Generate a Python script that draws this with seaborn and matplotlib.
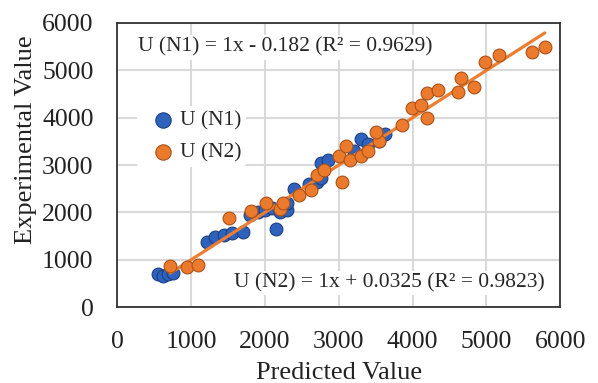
import numpy as np
import pandas as pd
import matplotlib
matplotlib.use("Agg")
import matplotlib.pyplot as plt
import seaborn as sns

# U (N1): predicted vs experimental
n1_pred = [550, 620, 690, 760, 1220, 1330, 1440, 1560, 1700, 1800, 1900, 2000,
           2100, 2150, 2200, 2300, 2300, 2400, 2600, 2700, 2760, 2760, 2860,
           3200, 3300, 3400, 3550, 3620]
n1_exp = [690, 650, 700, 730, 1370, 1480, 1520, 1560, 1590, 1950, 2000, 2050,
          2100, 1650, 2000, 2050, 2200, 2500, 2600, 2650, 2720, 3040, 3100,
          3300, 3550, 3450, 3500, 3650]

# U (N2)
n2_pred = [720, 950, 1100, 1510, 1810, 2010, 2200, 2250, 2460, 2620, 2700,
           2800, 3000, 3050, 3100, 3150, 3300, 3400, 3540, 3500, 3850, 3990,
           4120, 4190, 4190, 4350, 4620, 4660, 4830, 4980, 5170, 5620, 5790]
n2_exp = [860, 850, 880, 1880, 2030, 2200, 2080, 2200, 2370, 2470, 2800,
          2900, 3200, 2650, 3400, 3100, 3200, 3300, 3500, 3700, 3850, 4200,
          4270, 4000, 4520, 4580, 4540, 4830, 4650, 5170, 5320, 5390, 5490]

labels = ["U (N1)", "U (N2)"]
colors = ["#2f62bd", "#ec7a2c"]
edges = ["#1d3f80", "#a8521a"]
eq1 = "U (N1) = 1x - 0.182 (R² = 0.9629)"
eq2 = "U (N2) = 1x + 0.0325 (R² = 0.9823)"
fit2 = (1.0, 0.0325)

df = pd.DataFrame({
    "pred": n1_pred + n2_pred,
    "exp": n1_exp + n2_exp,
    "series": [labels[0]] * len(n1_pred) + [labels[1]] * len(n2_pred),
})

sns.set_theme(style="whitegrid")
plt.rcParams["font.family"] = ["Liberation Serif", "DejaVu Serif"]

fig = plt.figure(figsize=(5.98, 3.83), dpi=100)
ax = fig.add_axes([0.196, 0.198, 0.741, 0.742])

# trend line for N2
xl = np.array([min(n2_pred), max(n2_pred)])
ax.plot(xl, fit2[0] * xl + fit2[1], color="#ed7d31", lw=2.3, zorder=4)

for i, lab in enumerate(labels):
    sub = df[df["series"] == lab]
    sns.scatterplot(data=sub, x="pred", y="exp", color=colors[i],
                    edgecolor=edges[i], linewidth=0.8, s=85, ax=ax,
                    label=lab, zorder=3 + 2 * i)

ax.set_xlim(0, 6000)
ax.set_ylim(0, 6000)
ax.set_xticks(range(0, 6001, 1000))
ax.set_yticks(range(0, 6001, 1000))
ax.grid(True, color="#d9d9d9", lw=1.5)
ax.set_facecolor("white")
for sp in ax.spines.values():
    sp.set_color("#333333")
    sp.set_linewidth(1.3)
ax.tick_params(labelsize=18.5, colors="#222222", length=0)
ax.tick_params(axis="x", pad=17)
ax.tick_params(axis="y", pad=17)
ax.set_xlabel("Predicted Value", fontsize=19, color="#222222")
ax.set_ylabel("Experimental Value", fontsize=19, color="#222222")
ax.xaxis.set_label_coords(0.5, -0.193)
ax.yaxis.set_label_coords(-0.18, 0.588)

box = dict(facecolor="white", edgecolor="none", pad=2)
ax.text(0.38, 0.915, eq1, transform=ax.transAxes, ha="center", va="center",
        fontsize=15.5, bbox=box, zorder=6)
ax.text(0.614, 0.085, eq2, transform=ax.transAxes, ha="center", va="center",
        fontsize=15.5, bbox=box, zorder=6)

leg = ax.legend(loc="center left", bbox_to_anchor=(0.02, 0.60), frameon=True,
                fontsize=15.5, handletextpad=-0.2, borderpad=0.2,
                labelspacing=0.55, markerscale=1.2)
leg.get_frame().set_facecolor("white")
leg.get_frame().set_edgecolor("none")
leg.get_frame().set_alpha(1)

fig.savefig("out.png", dpi=100)
